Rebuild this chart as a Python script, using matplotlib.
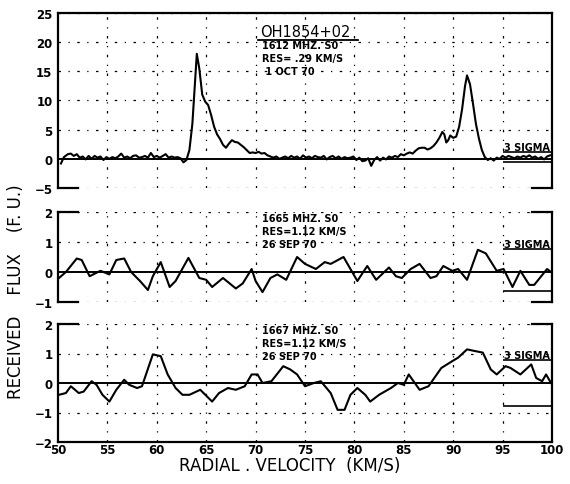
import matplotlib
matplotlib.use("Agg")
import matplotlib.pyplot as plt

plt.rcParams['font.family'] = 'DejaVu Sans'

# panel 1: OH1854+02, 1612 MHz, res .29 km/s
vel1 = [50.3, 50.6, 51.0, 51.3, 51.6, 51.9, 52.2, 52.5, 52.8, 53.1, 53.4, 53.7, 54.0, 54.3,
        54.6, 54.9, 55.2, 55.5, 55.8, 56.1, 56.4, 56.7, 57.0, 57.3, 57.6, 57.9, 58.2, 58.5,
        58.8, 59.1, 59.4, 59.7, 60.0, 60.3, 60.6, 60.9, 61.2, 61.5, 61.8, 62.1, 62.4, 62.7,
        63.0, 63.3, 63.6, 63.9, 64.05, 64.3, 64.6, 64.9, 65.2, 65.5, 65.8, 66.1, 66.4, 66.7,
        67.0, 67.3, 67.6, 67.9, 68.2, 68.5, 68.8, 69.1, 69.4, 69.7, 70.0, 70.3, 70.6, 70.9,
        71.2, 71.5, 71.8, 72.1, 72.4, 72.7, 73.0, 73.3, 73.6, 73.9, 74.2, 74.5, 74.8, 75.1,
        75.4, 75.7, 76.0, 76.3, 76.6, 76.9, 77.2, 77.5, 77.8, 78.1, 78.4, 78.7, 79.0, 79.3,
        79.6, 79.9, 80.2, 80.5, 80.8, 81.1, 81.4, 81.7, 82.0, 82.3, 82.6, 82.9, 83.2, 83.5,
        83.8, 84.1, 84.4, 84.7, 85.0, 85.3, 85.6, 85.9, 86.2, 86.5, 86.8, 87.1, 87.4, 87.7,
        88.0, 88.3, 88.6, 88.9, 89.1, 89.3, 89.5, 89.7, 90.0, 90.3, 90.6, 90.9, 91.2, 91.4,
        91.7, 92.0, 92.3, 92.6, 92.9, 93.2, 93.5, 93.8, 94.1, 94.4, 94.7, 95.0, 95.3, 95.6,
        95.9, 96.2, 96.5, 96.8, 97.1, 97.4, 97.7, 98.0, 98.3, 98.6, 98.9, 99.2, 99.5, 99.8]
flux1 = [-0.8, 0.3, 0.8, 0.9, 0.5, 0.8, 0.2, 0.4, -0.1, 0.5, 0.0, 0.5, 0.2, 0.4,
         -0.2, 0.3, 0.0, 0.3, 0.1, 0.4, 0.9, 0.2, 0.4, 0.1, 0.5, 0.6, 0.2, 0.3,
         0.5, 0.2, 1.0, 0.3, 0.5, 0.2, 0.5, 0.8, 0.2, 0.4, 0.2, 0.3, 0.1, -0.6,
         -0.2, 1.5, 6.0, 14.0, 18.0, 15.5, 11.0, 9.8, 9.2, 7.5, 5.5, 4.2, 3.4, 2.4,
         1.9, 2.6, 3.2, 2.9, 2.8, 2.4, 2.0, 1.5, 1.0, 1.1, 1.0, 1.2, 0.9, 1.0,
         0.6, 0.4, 0.2, 0.4, 0.0, 0.2, 0.4, 0.1, 0.5, 0.2, 0.4, 0.0, 0.6, 0.2,
         0.4, 0.1, 0.5, 0.3, 0.2, 0.5, -0.1, 0.3, 0.5, 0.1, 0.4, 0.0, 0.3, 0.1,
         0.2, 0.4, -0.2, 0.2, -0.4, -0.3, 0.1, -1.2, -0.2, 0.3, -0.3, 0.2, -0.1, 0.4,
         0.2, 0.5, 0.3, 0.8, 0.6, 0.9, 1.1, 0.9, 1.4, 1.8, 1.9, 1.9, 1.6, 1.8,
         2.2, 2.8, 3.6, 4.6, 4.2, 2.8, 3.2, 4.0, 3.6, 3.8, 5.5, 8.5, 12.5, 14.3,
         12.8, 9.5, 6.0, 3.5, 1.5, 0.3, -0.2, 0.1, -0.3, 0.2, 0.0, 0.5, 0.2, 0.5,
         0.3, 0.1, 0.4, 0.2, 0.5, 0.3, 0.6, 0.2, 0.4, 0.0, 0.3, -0.1, 0.4, 0.6]

# panel 2: 1665 MHz, res 1.12 km/s
vel2 = [50.1, 50.8, 51.9, 52.4, 53.2, 54.3, 55.2, 55.9, 56.7, 57.4, 58.3, 59.1, 59.6, 60.4,
        61.3, 61.9, 63.2, 64.3, 65.0, 65.6, 66.7, 68.0, 68.7, 69.6, 70.0, 70.7, 71.5, 72.2,
        73.1, 74.2, 75.0, 76.1, 77.0, 77.6, 78.9, 79.6, 80.3, 81.3, 82.2, 83.5, 84.2, 84.8,
        85.7, 86.6, 87.7, 88.3, 89.0, 89.9, 90.5, 91.4, 92.5, 93.3, 94.4, 95.1, 96.0, 96.8,
        97.7, 98.2, 99.5, 99.9]
flux2 = [-0.2, 0.0, 0.45, 0.4, -0.14, 0.04, -0.08, 0.4, 0.45, 0.0, -0.3, -0.6, -0.14, 0.33,
         -0.5, -0.3, 0.47, -0.2, -0.26, -0.5, -0.2, -0.55, -0.38, 0.1, -0.3, -0.67, -0.2, -0.08,
         -0.26, 0.5, 0.27, 0.1, 0.33, 0.27, 0.5, 0.1, -0.3, 0.2, -0.26, 0.15, -0.14, -0.2,
         0.1, 0.27, -0.2, -0.14, 0.2, 0.04, 0.1, -0.26, 0.74, 0.62, 0.04, 0.1, -0.5, 0.04,
         -0.43, -0.43, 0.1, 0.0]

# panel 3: 1667 MHz, res 1.12 km/s
vel3 = [50.1, 50.8, 51.3, 52.1, 52.6, 53.4, 53.9, 54.5, 55.2, 55.9, 56.7, 57.2, 58.0, 58.5,
        59.6, 60.4, 61.1, 61.9, 62.6, 63.3, 64.4, 65.6, 66.3, 67.2, 68.0, 68.9, 69.6, 70.2,
        70.7, 71.6, 72.8, 73.5, 74.2, 75.0, 75.9, 76.6, 77.6, 78.3, 79.0, 79.6, 80.3, 81.1,
        81.6, 82.5, 83.7, 84.4, 85.0, 85.5, 86.6, 87.5, 88.8, 89.9, 90.5, 91.4, 92.1, 93.0,
        93.8, 94.4, 95.3, 95.8, 96.8, 97.9, 98.4, 99.0, 99.4, 99.9]
flux3 = [-0.4, -0.34, -0.11, -0.34, -0.29, 0.06, -0.06, -0.4, -0.63, -0.23, 0.11, -0.06, -0.17, -0.11,
         0.97, 0.91, 0.29, -0.17, -0.4, -0.4, -0.23, -0.63, -0.34, -0.17, -0.23, -0.11, 0.29, 0.29,
         0.0, 0.06, 0.57, 0.46, 0.29, -0.11, 0.0, 0.06, -0.34, -0.91, -0.91, -0.4, -0.17, -0.4,
         -0.63, -0.4, -0.17, 0.0, -0.06, 0.29, -0.23, -0.11, 0.51, 0.74, 0.86, 1.14, 1.09, 1.03,
         0.46, 0.29, 0.57, 0.51, 0.29, 0.63, 0.17, 0.06, 0.29, 0.0]

# 3 sigma levels (upper, lower) drawn from 95 to 100 km/s
sigma1 = [1.2, -0.6]
sigma2 = [0.77, -0.63]
sigma3 = [0.78, -0.78]

labels1 = ["1612 MHZ. S0", "RES= .29 KM/S", " 1 OCT 70"]
labels2 = ["1665 MHZ. S0", "RES=1.12 KM/S", "26 SEP 70"]
labels3 = ["1667 MHZ. S0", "RES=1.12 KM/S", "26 SEP 70"]

fig = plt.figure(figsize=(5.7, 4.85), dpi=100)
W, H = 570.0, 485.0
x0, x1 = 58, 552
panels = [
    dict(top=14, bot=189, ylim=(-5, 25), yt=[-5, 0, 5, 10, 15, 20, 25],
         v=vel1, f=flux1, sig=sigma1, lab=labels1, open_top=False, open_bot=True),
    dict(top=213, bot=303, ylim=(-1, 2), yt=[-1, 0, 1, 2],
         v=vel2, f=flux2, sig=sigma2, lab=labels2, open_top=True, open_bot=True),
    dict(top=325, bot=443, ylim=(-2, 2), yt=[-2, -1, 0, 1, 2],
         v=vel3, f=flux3, sig=sigma3, lab=labels3, open_top=True, open_bot=False),
]

gridstyle = dict(color='black', lw=0.9, ls=(0, (2, 6, 1, 6)))
bold = dict(fontsize=8, fontweight='bold')

for i, p in enumerate(panels):
    ax = fig.add_axes([x0 / W, 1 - p['bot'] / H, (x1 - x0) / W, (p['bot'] - p['top']) / H])
    ax.set_xlim(50, 100)
    ax.set_ylim(*p['ylim'])
    ax.set_yticks(p['yt'])
    ax.set_xticks(range(50, 101, 5))
    ax.tick_params(length=0, pad=4)
    for t in ax.get_yticklabels():
        t.set_fontweight('bold')
        t.set_fontsize(8.5)
    if i < 2:
        ax.set_xticklabels([])
    else:
        for t in ax.get_xticklabels():
            t.set_fontweight('bold')
            t.set_fontsize(8.5)
        ax.tick_params(axis='x', pad=1)

    for s in ax.spines.values():
        s.set_linewidth(1.6)
    # grid lines
    for xv in range(55, 100, 5):
        ax.axvline(xv, **gridstyle)
    for yv in p['yt']:
        if yv != 0:
            ax.axhline(yv, **gridstyle)
    ax.axhline(0, color='black', lw=1.4)

    # open frame edges: only corner pieces
    if p['open_top']:
        ax.spines['top'].set_visible(False)
        ax.plot([0, 0.04], [1, 1], transform=ax.transAxes, color='black', lw=1.6, clip_on=False)
        ax.plot([0.96, 1], [1, 1], transform=ax.transAxes, color='black', lw=1.6, clip_on=False)
    if p['open_bot']:
        ax.spines['bottom'].set_visible(False)
        ax.plot([0, 0.04], [0, 0], transform=ax.transAxes, color='black', lw=1.6, clip_on=False)
        ax.plot([0.96, 1], [0, 0], transform=ax.transAxes, color='black', lw=1.6, clip_on=False)

    ax.plot(p['v'], p['f'], color='black', lw=1.5)

    # 3 sigma bars
    for s in p['sig']:
        ax.hlines(s, 95, 100, color='black', lw=1.2)
    ax.text(95.1, p['sig'][0], "3 SIGMA", fontsize=7, fontweight='bold',
            va='bottom', ha='left')

# header texts
fig.text(260 / W, 1 - 40 / H, "OH1854+02", fontsize=10.5, va='bottom', ha='left')
fig.add_artist(plt.Line2D([258 / W, 358 / W], [1 - 41 / H, 1 - 41 / H], color='black', lw=1.3))
for k, s in enumerate(labels1):
    fig.text(262 / W, 1 - (46 + 13 * k) / H, s, va='center', ha='left', **dict(bold, fontsize=7))
for k, s in enumerate(labels2):
    fig.text(262 / W, 1 - (219 + 13 * k) / H, s, va='center', ha='left', **dict(bold, fontsize=7))
for k, s in enumerate(labels3):
    fig.text(262 / W, 1 - (331 + 13 * k) / H, s, va='center', ha='left', **dict(bold, fontsize=7))

fig.text(290 / W, 1 - 466 / H, "RADIAL . VELOCITY  (KM/S)", fontsize=12,
         ha='center', va='center')
fig.text(16 / W, 1 - 292 / H, "RECEIVED    FLUX    (F. U.)", fontsize=12,
         rotation=90, ha='center', va='center')

fig.savefig("out.png", dpi=100)
